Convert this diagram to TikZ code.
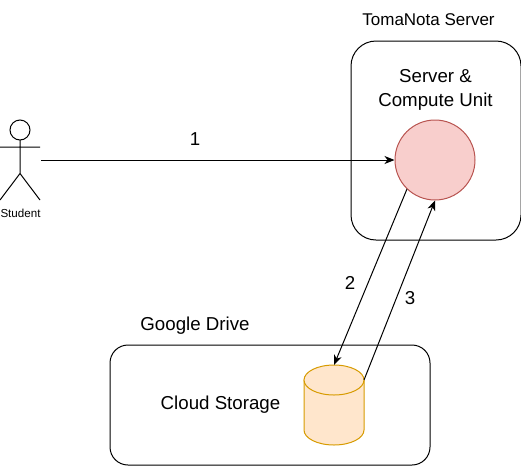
\documentclass[tikz,border=0pt]{standalone}
\usepackage{fontspec}
\setmainfont{Liberation Sans}
\usetikzlibrary{arrows.meta}
\definecolor{redfill}{HTML}{F8CECC}
\definecolor{redline}{HTML}{B85450}
\definecolor{orfill}{HTML}{FFE6CC}
\definecolor{orline}{HTML}{D79B00}
\tikzset{
  box/.style={draw=black,line width=1pt,rounded corners=18pt,inner sep=0,minimum width=#1},
  lab/.style={font=\fontsize{18.7}{23.5}\selectfont,inner sep=0,align=center,text=black},
  title/.style={font=\fontsize{17}{23.5}\selectfont,inner sep=0,align=center,text=black},
  small/.style={font=\fontsize{11.6}{13}\selectfont,inner sep=0},
  conn/.style={draw=black,line width=1pt,-{Stealth[length=10pt,width=8pt,inset=3pt]}}
}
\begin{document}
\begin{tikzpicture}[x=1pt,y=-1pt,line width=1pt]
\useasboundingbox (0,0) rectangle (521,466);
\node[box=170pt,minimum height=199pt,rounded corners=25pt] (server) at (436,140.5) {};
\node[box=320pt,minimum height=120pt] (drive) at (270,405) {};
\node[circle,draw=redline,fill=redfill,minimum size=80pt,inner sep=0,line width=1pt] (cpu) at (435,160) {};
% cylinder
\filldraw[draw=orline,fill=orfill] (304,380) -- (304,430) arc[x radius=30,y radius=-15,start angle=180,end angle=360] -- (364,380) -- cycle;
\filldraw[draw=orline,fill=orfill] (334,380) ellipse[x radius=30,y radius=15];
\coordinate (storetop) at (334,365);
\coordinate (storeright) at (364,380);
% actor
\draw (20,130) circle[radius=10];
\draw (20,140) -- (20,173.5) (0,147) -- (40,147) (0,200) -- (20,173.5) -- (40,200);
\coordinate (actor) at (41,160);
\node[small] (student) at (20.5,213) {Student};
% connectors
\draw[conn] (actor) -- (cpu.west);
\coordinate (cpuout) at (407,189);
\draw[conn] (cpuout) -- (storetop);
\draw[conn] (storeright) -- (cpu.south);
% labels
\node[lab] (n1) at (195,139) {1};
\node[lab] (n2) at (350,283) {2};
\node[lab] (n3) at (410,298) {3};
\node[title] (t1) at (428.5,20) {TomaNota Server};
\node[lab] (t2) at (435.5,90) {Server \&\\Compute Unit};
\node[lab] (t3) at (195,325.5) {Google Drive};
\node[lab] (t4) at (220.5,405) {Cloud Storage};
\end{tikzpicture}
\end{document}
